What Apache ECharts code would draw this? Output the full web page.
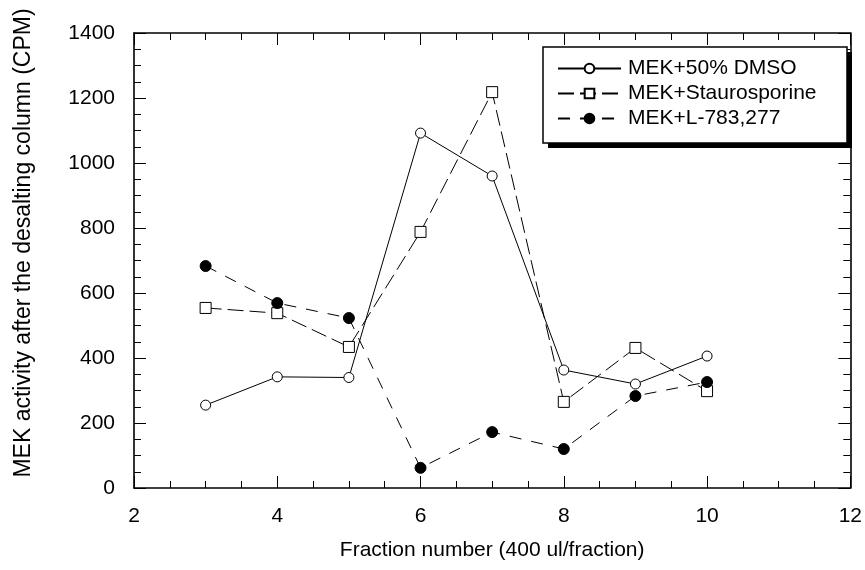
<!DOCTYPE html>
<html><head><meta charset="utf-8">
<script src="https://cdn.jsdelivr.net/npm/echarts@6/dist/echarts.min.js"></script>
<style>html,body{margin:0;padding:0;background:#fff}#c{width:865px;height:570px}</style>
</head><body><div id="c"></div>
<script>
const fractions = [3, 4, 5, 6, 7, 8, 9, 10];
const dmso = [255, 342, 340, 1092, 960, 363, 320, 406];
const stauro = [554, 538, 434, 788, 1218, 265, 431, 298];
const l783 = [683, 569, 523, 62, 172, 120, 283, 326];
const seriesNames = ['MEK+50% DMSO', 'MEK+Staurosporine', 'MEK+L-783,277'];
const xTicks = [2, 4, 6, 8, 10, 12];
const yTicks = [0, 200, 400, 600, 800, 1000, 1200, 1400];

const font = 'Liberation Sans, Arial, sans-serif';
const pairs = arr => fractions.map((f, i) => [f, arr[i]]);
const chart = echarts.init(document.getElementById('c'));
const axisCommon = () => ({
  axisLine: {show: true, onZero: false, lineStyle: {color: '#000', width: 1.6}},
  axisTick: {show: true, inside: true, length: 12, lineStyle: {color: '#000', width: 1}},
  minorTick: {show: true, splitNumber: 4, length: 7, lineStyle: {color: '#000', width: 1}},
  splitLine: {show: false}
});
chart.setOption({
  animation: false,
  backgroundColor: '#fff',
  grid: {left: 134, right: 13, top: 33, bottom: 82},
  xAxis: [
    Object.assign({type: 'value', min: xTicks[0], max: xTicks[xTicks.length-1], interval: 2, position: 'bottom',
      name: 'Fraction number (400 ul/fraction)', nameLocation: 'middle', nameGap: 52,
      nameTextStyle: {fontFamily: font, fontSize: 21, color: '#000'},
      axisLabel: {fontFamily: font, fontSize: 21, color: '#000', margin: 18}}, axisCommon()),
    Object.assign({type: 'value', min: xTicks[0], max: xTicks[xTicks.length-1], interval: 2, position: 'top',
      axisLabel: {show: false}}, axisCommon())
  ],
  yAxis: [
    Object.assign({type: 'value', min: yTicks[0], max: yTicks[yTicks.length-1], interval: 200, position: 'left',
      name: 'MEK activity after the desalting column (CPM)', nameLocation: 'middle', nameGap: 99,
      nameTextStyle: {fontFamily: font, fontSize: 23, color: '#000', padding: [0, 0, 0, 35]},
      axisLabel: {fontFamily: font, fontSize: 21, color: '#000', margin: 19, formatter: v => String(v)}}, axisCommon()),
    Object.assign({type: 'value', min: yTicks[0], max: yTicks[yTicks.length-1], interval: 200, position: 'right',
      axisLabel: {show: false}}, axisCommon())
  ],
  graphic: [
    {type: 'rect', shape: {x: 548, y: 52, width: 304, height: 96}, style: {fill: '#000'}, z: 10},
    {type: 'rect', shape: {x: 543, y: 47, width: 304, height: 96}, style: {fill: '#fff', stroke: '#000', lineWidth: 1.5}, z: 11}
  ],
  legend: {
    left: 557, top: 58, orient: 'vertical', itemWidth: 63, itemHeight: 12, itemGap: 4,
    padding: 0, z: 20,
    textStyle: {fontFamily: font, fontSize: 21, color: '#000', padding: [0, 0, 0, 2]},
    data: seriesNames
  },
  series: [
    {name: seriesNames[0], type: 'line', data: pairs(dmso), symbol: 'circle', symbolSize: 10,
      lineStyle: {color: '#000', width: 1}, itemStyle: {color: '#fff', borderColor: '#000', borderWidth: 1}},
    {name: seriesNames[1], type: 'line', data: pairs(stauro), symbol: 'rect', symbolSize: 11,
      lineStyle: {color: '#000', width: 1, type: [16, 6]}, itemStyle: {color: '#fff', borderColor: '#000', borderWidth: 1}},
    {name: seriesNames[2], type: 'line', data: pairs(l783), symbol: 'circle', symbolSize: 11,
      lineStyle: {color: '#000', width: 1, type: [12, 10]}, itemStyle: {color: '#000', borderColor: '#000', borderWidth: 1}}
  ]
});
</script></body></html>
